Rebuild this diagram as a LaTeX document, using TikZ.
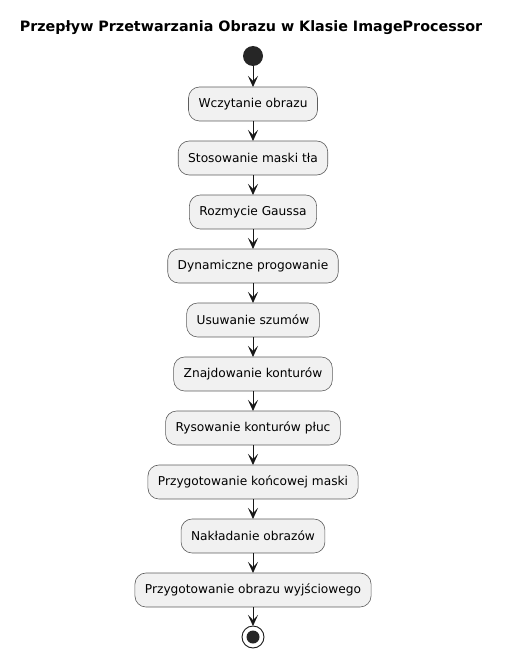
\documentclass[tikz,border=0pt]{standalone}
\usepackage{fontspec}
\setmainfont{DejaVu Sans}
\usepackage{xcolor}
\usetikzlibrary{positioning,arrows.meta}
\definecolor{box area}{HTML}{F1F1F1}
\definecolor{box edge}{HTML}{181818}
\colorlet{dot}{black!85}
\tikzset{action/.style={rectangle, rounded corners=11pt, fill=box area, draw=box edge!70,
        line width=0.6pt, outer sep=0pt, minimum height=34pt, inner xsep=10pt,
        font=\fontsize{12.2}{14}\selectfont},
    flow/.style={draw=box edge, line width=0.9pt, -{Stealth[length=11pt,width=10pt,inset=5pt]}}}

\begin{document}
\begin{tikzpicture}[x=1pt,y=1pt]
    \useasboundingbox (0,0) rectangle (504,-658);
    \node[font=\bfseries\fontsize{14.3}{17}\selectfont] (title) at (251,-28)
        {Przepływ Przetwarzania Obrazu w Klasie ImageProcessor};
    \node[circle, fill=dot, minimum size=20pt, inner sep=0pt, outer sep=0pt] (start) at (253,-56) {};
    \node[action, below=21pt of start]  (load)    {Wczytanie obrazu};
    \node[action, below=20pt of load]   (mask)    {Stosowanie maski tła};
    \node[action, below=20pt of mask]   (blur)    {Rozmycie Gaussa};
    \node[action, below=20pt of blur]   (thresh)  {Dynamiczne progowanie};
    \node[action, below=20pt of thresh] (noise)   {Usuwanie szumów};
    \node[action, below=20pt of noise]  (find)    {Znajdowanie konturów};
    \node[action, below=20pt of find]   (drawc)   {Rysowanie konturów płuc};
    \node[action, below=20pt of drawc]  (final)   {Przygotowanie końcowej maski};
    \node[action, below=20pt of final]  (overlay) {Nakładanie obrazów};
    \node[action, below=20pt of overlay] (output) {Przygotowanie obrazu wyjściowego};
    \node[circle, draw=box edge, line width=0.9pt, minimum size=22pt, inner sep=0pt,
        outer sep=0pt, below=19pt of output] (stop) {};
    \fill[dot] (stop.center) circle (6.5);
    \foreach \a/\b in {start/load, load/mask, mask/blur, blur/thresh, thresh/noise,
        noise/find, find/drawc, drawc/final, final/overlay, overlay/output, output/stop}
        \draw[flow] (\a) -- (\b);
\end{tikzpicture}
\end{document}
